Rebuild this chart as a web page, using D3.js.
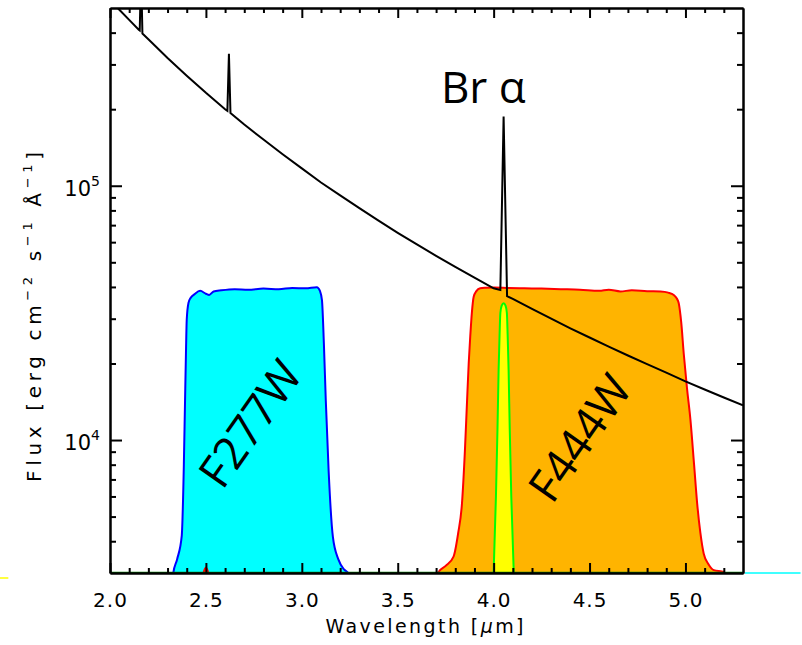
<!DOCTYPE html>
<html><head><meta charset="utf-8">
<script src="https://cdn.jsdelivr.net/npm/d3@7"></script>
<style>body{margin:0;background:#fff} svg{display:block}</style>
</head><body>
<svg id="c" width="802" height="645"></svg>
<script>
// ---------------- data ----------------
const xDomain = [2.0, 5.3];
const yDomain = [3e3, 5e5];
const xMajor = [2.0, 2.5, 3.0, 3.5, 4.0, 4.5, 5.0];
const xTickLabels = ["2.0", "2.5", "3.0", "3.5", "4.0", "4.5", "5.0"];
const yMajor = [1e4, 1e5];
const yTickExp = ["4", "5"];
const yMinor = [4e3, 5e3, 6e3, 7e3, 8e3, 9e3, 2e4, 3e4, 4e4, 5e4, 6e4, 7e4, 8e4, 9e4, 2e5, 3e5, 4e5];

// spectrum (erg cm^-2 s^-1 A^-1) vs wavelength (um)
const specWave = [2.00, 2.05, 2.10, 2.15, 2.155, 2.162, 2.169, 2.20, 2.30, 2.40, 2.50, 2.60, 2.612, 2.620, 2.628,
  2.70, 2.80, 2.90, 3.00, 3.10, 3.20, 3.30, 3.40, 3.50, 3.60, 3.70, 3.80, 3.90, 4.00, 4.035, 4.052, 4.070,
  4.10, 4.20, 4.30, 4.40, 4.50, 4.60, 4.70, 4.80, 4.90, 5.00, 5.10, 5.20, 5.30];
const specFlux = [5.37e5, 4.91e5, 4.49e5, 4.11e5, 4.08e5, 7.0e5, 3.97e5, 3.77e5, 3.18e5, 2.71e5, 2.32e5, 2.00e5, 1.97e5, 3.30e5, 1.93e5,
  1.74e5, 1.52e5, 1.33e5, 1.17e5, 1.03e5, 9.17e4, 8.16e4, 7.29e4, 6.53e4, 5.88e4, 5.30e4, 4.80e4, 4.35e4, 3.95e4, 3.89e4, 1.87e5, 3.68e4,
  3.59e4, 3.28e4, 3.00e4, 2.75e4, 2.53e4, 2.33e4, 2.15e4, 1.99e4, 1.84e4, 1.70e4, 1.58e4, 1.47e4, 1.37e4];

// F277W throughput (scaled)
const f277Wave = [2.20, 2.28, 2.31, 2.33, 2.35, 2.374, 2.385, 2.391, 2.396, 2.400, 2.409, 2.42, 2.44, 2.47, 2.50, 2.517, 2.54,
  2.58, 2.65, 2.72, 2.80, 2.88, 2.95, 3.02, 3.078, 3.095, 3.105, 3.115, 3.125, 3.14, 3.162, 3.19, 3.22, 3.242, 3.27, 3.35];
const f277Flux = [50, 600, 2000, 3000, 3400, 4200, 8000, 1.4e4, 2.2e4, 2.97e4, 3.46e4, 3.62e4, 3.74e4, 3.86e4, 3.76e4, 3.72e4, 3.84e4,
  3.88e4, 3.92e4, 3.90e4, 3.94e4, 3.92e4, 3.96e4, 3.95e4, 3.99e4, 3.85e4, 3.55e4, 2.4e4, 1.43e4, 7500, 4160, 3400, 3100, 3000, 2500, 400];

// F444W throughput (scaled)
const f444Wave = [3.55, 3.65, 3.69, 3.713, 3.75, 3.791, 3.815, 3.835, 3.85, 3.861, 3.87, 3.878, 3.887, 3.896, 3.91, 3.93, 3.96,
  4.00, 4.08, 4.16, 4.25, 4.35, 4.45, 4.55, 4.60, 4.661, 4.72, 4.80, 4.87, 4.91, 4.939, 4.955, 4.965, 4.978, 4.991, 5.008,
  5.026, 5.045, 5.061, 5.078, 5.095, 5.12, 5.148, 5.20, 5.25, 5.35];
const f444Flux = [100, 1200, 2500, 3030, 3200, 3480, 4300, 5640, 9000, 1.4e4, 2.0e4, 2.55e4, 3.2e4, 3.66e4, 3.85e4, 3.95e4, 3.97e4,
  3.98e4, 3.96e4, 3.95e4, 3.94e4, 3.92e4, 3.90e4, 3.86e4, 3.90e4, 3.84e4, 3.88e4, 3.85e4, 3.84e4, 3.80e4, 3.72e4, 3.60e4, 3.45e4, 2.9e4, 2.19e4, 1.6e4,
  1.2e4, 8000, 5640, 4300, 3580, 3250, 3080, 3030, 2000, 300];

// F405N throughput (scaled)
const f405Wave = [3.96, 3.99, 4.00, 4.012, 4.02, 4.026, 4.031, 4.035, 4.042, 4.052, 4.062, 4.069, 4.073, 4.078, 4.084, 4.092, 4.105, 4.115, 4.14];
const f405Flux = [100, 2000, 3030, 6000, 1.1e4, 1.89e4, 2.6e4, 3.16e4, 3.38e4, 3.45e4, 3.38e4, 3.16e4, 2.6e4, 1.89e4, 1.1e4, 6000, 3030, 2000, 100];

// small red leak near 2.5 um
const leakWave = [2.482, 2.500, 2.518];
const leakFlux = [2900, 3150, 2900];

// ---------------- drawing ----------------
const X0 = 110, X1 = 743, Y0 = 8, Y1 = 573;
const svg = d3.select("#c");
const x = d3.scaleLinear().domain(xDomain).range([X0, X1]);
const y = d3.scaleLog().domain(yDomain).range([Y1, Y0]);
const zip = (a, b) => a.map((w, i) => ({w, f: b[i]}));

const defs = svg.append("defs");
defs.append("clipPath").attr("id", "plotclip")
  .append("rect").attr("x", X0).attr("y", Y0).attr("width", X1 - X0).attr("height", Y1 - Y0);

// off-plot tails (as in the original rendering)
const tails = svg.append("g");
const grad = defs.append("linearGradient").attr("id", "tailgrad");
grad.append("stop").attr("offset", "0%").attr("stop-color", "#fff6c0");
grad.append("stop").attr("offset", "100%").attr("stop-color", "#ffb000");
tails.append("line").attr("x1", x(1.426)).attr("x2", x(1.99)).attr("y1", Y1).attr("y2", Y1)
  .attr("stroke", "url(#tailgrad)").attr("stroke-width", 1.2);
tails.append("line").attr("x1", x(1.426)).attr("x2", x(1.47)).attr("y1", Y1 + 5).attr("y2", Y1 + 5)
  .attr("stroke", "#ffff00").attr("stroke-width", 1.5);
tails.append("line").attr("x1", x(5.31)).attr("x2", x(5.6)).attr("y1", Y1).attr("y2", Y1)
  .attr("stroke", "#00ffff").attr("stroke-width", 1.5);

const plot = svg.append("g").attr("clip-path", "url(#plotclip)");

const area = d3.area().x(d => x(d.w)).y0(Y1 + 10).y1(d => y(d.f)).curve(d3.curveMonotoneX);
const line = d3.line().x(d => x(d.w)).y(d => y(d.f)).curve(d3.curveMonotoneX);

function filter(wave, flux, fill, stroke) {
  const d = zip(wave, flux);
  plot.append("path").attr("d", area(d)).attr("fill", fill);
  plot.append("path").attr("d", line(d)).attr("fill", "none").attr("stroke", stroke).attr("stroke-width", 2);
}
filter(f277Wave, f277Flux, "#00ffff", "#0000ff");
filter(f444Wave, f444Flux, "#ffb400", "#ff0000");
filter(f405Wave, f405Flux, "#ffff00", "#00ff00");
filter(leakWave, leakFlux, "#ff0000", "#ff0000");

// green baseline along the bottom
plot.append("line").attr("x1", X0).attr("x2", X1).attr("y1", Y1 - 0.5).attr("y2", Y1 - 0.5)
  .attr("stroke", "#008000").attr("stroke-width", 1.5);

// spectrum
plot.append("path")
  .attr("d", d3.line().x(d => x(d.w)).y(d => y(d.f))(zip(specWave, specFlux)))
  .attr("fill", "none").attr("stroke", "#000").attr("stroke-width", 2).attr("stroke-linejoin", "miter");

// ---------------- axes ----------------
const xMinor = d3.range(21, 53).map(v => v / 10).filter(v => Math.abs(v * 2 - Math.round(v * 2)) > 1e-6);
const axisFont = "DejaVu Sans, Liberation Sans, sans-serif";

function styleAxis(g) {
  g.select(".domain").attr("stroke", "#000").attr("stroke-width", 2);
  g.selectAll(".tick line").attr("stroke", "#000").attr("stroke-width", 2);
}

const gxB = svg.append("g").attr("transform", `translate(0,${Y1})`)
  .call(d3.axisBottom(x).tickValues(xMajor).tickSize(-10).tickSizeOuter(0).tickPadding(20)
    .tickFormat((d, i) => xTickLabels[i]));
gxB.selectAll(".tick text").attr("font-family", axisFont).attr("font-size", 20).attr("letter-spacing", 1).attr("fill", "#000");
styleAxis(gxB);
const gxBm = svg.append("g").attr("transform", `translate(0,${Y1})`)
  .call(d3.axisBottom(x).tickValues(xMinor).tickSize(-5).tickSizeOuter(0).tickFormat(""));
styleAxis(gxBm);

const gxT = svg.append("g").attr("transform", `translate(0,${Y0})`)
  .call(d3.axisTop(x).tickValues(xMajor).tickSize(-10).tickSizeOuter(0).tickFormat(""));
styleAxis(gxT);
const gxTm = svg.append("g").attr("transform", `translate(0,${Y0})`)
  .call(d3.axisTop(x).tickValues(xMinor).tickSize(-5).tickSizeOuter(0).tickFormat(""));
styleAxis(gxTm);

const gyL = svg.append("g").attr("transform", `translate(${X0},0)`)
  .call(d3.axisLeft(y).tickValues(yMajor).tickSize(-12).tickSizeOuter(0).tickPadding(10).tickFormat(""));
styleAxis(gyL);
gyL.selectAll(".tick text").each(function (d, i) {
  const t = d3.select(this).attr("font-family", axisFont).attr("font-size", 21).attr("fill", "#000").attr("dy", "0.46em");
  t.text(null);
  t.append("tspan").text("10");
  t.append("tspan").attr("font-size", 14).attr("dy", -10).text(yTickExp[i]);
});
const gyLm = svg.append("g").attr("transform", `translate(${X0},0)`)
  .call(d3.axisLeft(y).tickValues(yMinor).tickSize(-6).tickSizeOuter(0).tickFormat(""));
styleAxis(gyLm);

const gyR = svg.append("g").attr("transform", `translate(${X1},0)`)
  .call(d3.axisRight(y).tickValues(yMajor).tickSize(-12).tickSizeOuter(0).tickFormat(""));
styleAxis(gyR);
const gyRm = svg.append("g").attr("transform", `translate(${X1},0)`)
  .call(d3.axisRight(y).tickValues(yMinor).tickSize(-6).tickSizeOuter(0).tickFormat(""));
styleAxis(gyRm);

// axis titles
svg.append("text").attr("x", (X0 + X1) / 2 - 2).attr("y", 633)
  .attr("text-anchor", "middle").attr("font-family", axisFont).attr("font-size", 19)
  .attr("textLength", 198).attr("lengthAdjust", "spacing")
  .html('Wavelength [<tspan font-style="italic">μ</tspan>m]');

const yt = svg.append("text").attr("transform", "translate(41,317) rotate(-90)")
  .attr("text-anchor", "middle").attr("font-family", axisFont).attr("font-size", 20)
  .attr("textLength", 330).attr("lengthAdjust", "spacing");
yt.append("tspan").text("Flux [erg cm");
yt.append("tspan").attr("font-size", 13).attr("dy", -9).text("−2");
yt.append("tspan").attr("dy", 9).text(" s");
yt.append("tspan").attr("font-size", 13).attr("dy", -9).text("−1");
yt.append("tspan").attr("dy", 9).text(" Å");
yt.append("tspan").attr("font-size", 13).attr("dy", -9).text("−1");
yt.append("tspan").attr("dy", 9).text("]");

// annotations
const labFont = "Open Sans, Noto Sans, sans-serif";
svg.append("text").attr("x", x(3.725)).attr("y", 103).attr("font-family", labFont).attr("font-size", 44)
  .attr("fill", "#000").text("Br α");
svg.append("text").attr("transform", `translate(${x(2.73)},${y(1.16e4)}) rotate(-55)`)
  .attr("text-anchor", "middle").attr("dy", "0.36em").attr("font-family", labFont).attr("font-size", 45)
  .text("F277W");
svg.append("text").attr("transform", `translate(${x(4.448)},${y(1.02e4)}) rotate(-55)`)
  .attr("text-anchor", "middle").attr("dy", "0.36em").attr("font-family", labFont).attr("font-size", 45)
  .text("F444W");
</script>
</body></html>
